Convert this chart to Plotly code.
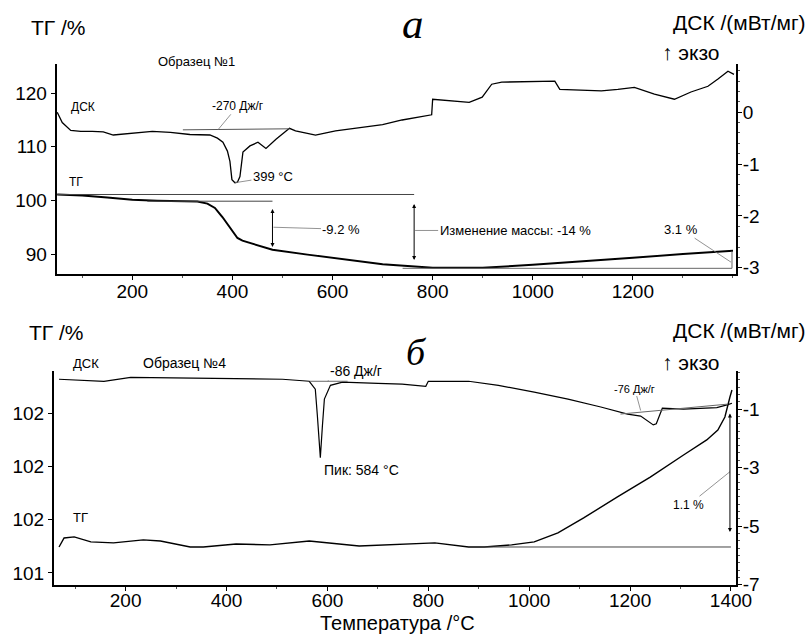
import plotly.graph_objects as go

# ---------------- data: panel a (Образец №1) ----------------
a_tg_T = [50, 100, 150, 200, 250, 300, 330, 350, 365, 380, 390, 400, 410, 420, 440,
          480, 550, 600, 700, 800, 850, 900, 1000, 1100, 1200, 1300, 1400]
a_tg_val = [101.1, 100.9, 100.55, 100.1, 99.95, 99.9, 99.8, 99.4, 98.6, 96.9, 95.6, 94.4,
            93.0, 92.5, 91.9, 90.8, 89.9, 89.3, 88.1, 87.45, 87.4, 87.45, 88.0, 88.6,
            89.3, 90.0, 90.6]

a_dsc_T = [50, 60, 77, 97, 120, 142, 162, 185, 208, 240, 276, 315, 355, 370, 381, 390,
           395, 399, 405, 410, 415, 421, 435, 451, 467, 487, 514, 526, 545, 566, 606,
           640, 674, 700, 739, 765, 798, 800, 830, 873, 899, 918, 938, 1000, 1044, 1054,
           1100, 1137, 1170, 1203, 1243, 1283, 1316, 1350, 1370, 1390, 1402]
a_dsc_val = [0.0, -0.2, -0.35, -0.37, -0.37, -0.38, -0.44, -0.42, -0.39, -0.37, -0.39,
             -0.43, -0.44, -0.5, -0.58, -0.75, -0.95, -1.30, -1.36, -1.35, -1.24, -0.77,
             -0.65, -0.58, -0.70, -0.52, -0.31, -0.36, -0.40, -0.44, -0.36, -0.32, -0.27,
             -0.24, -0.15, -0.1, -0.05, 0.25, 0.22, 0.19, 0.29, 0.54, 0.58, 0.60, 0.60,
             0.44, 0.43, 0.41, 0.44, 0.48, 0.35, 0.25, 0.39, 0.50, 0.64, 0.79, 0.73]

a_tg_base_top_T = [50, 763]
a_tg_base_top_val = [101.1, 101.1]
a_tg_base_mid_T = [230, 480]
a_tg_base_mid_val = [99.85, 99.85]
a_tg_base_low_T = [740, 1398]
a_tg_base_low_val = [87.35, 87.35]
a_tg_end_T = [1398, 1398]
a_tg_end_val = [87.35, 90.5]
a_dsc_base_T = [301, 514]
a_dsc_base_val = [-0.34, -0.32]

# ---------------- data: panel б (Образец №4) ----------------
b_dsc_T = [68, 157, 210, 354, 511, 564, 576, 580, 584, 586, 590, 594, 606, 630, 700,
           748, 795, 800, 880, 939, 1010, 1077, 1142, 1195, 1221, 1235, 1246, 1252,
           1258, 1264, 1306, 1372, 1394, 1402]
b_dsc_val = [0.02, -0.05, 0.08, 0.05, 0.02, -0.05, -0.32, -1.2, -2.4, -2.66, -1.6, -0.66,
             -0.19, -0.08, -0.12, -0.15, -0.22, -0.05, -0.05, -0.19, -0.42, -0.66, -0.93,
             -1.17, -1.24, -1.4, -1.54, -1.5, -1.2, -0.97, -1.0, -0.95, -0.85, -0.8]

b_tg_T = [68, 78, 98, 131, 176, 235, 269, 328, 354, 419, 486, 564, 663, 748, 813, 880,
          911, 965, 1010, 1057, 1108, 1175, 1240, 1306, 1352, 1374, 1388, 1398, 1402]
b_tg_val = [101.446, 101.497, 101.503, 101.475, 101.469, 101.486, 101.480, 101.446,
            101.446, 101.463, 101.458, 101.480, 101.452, 101.463, 101.469, 101.446,
            101.446, 101.458, 101.475, 101.525, 101.610, 101.728, 101.840, 101.964,
            102.049, 102.105, 102.178, 102.291, 102.330]

b_tg_base_T = [905, 1400]
b_tg_base_val = [101.446, 101.446]
b_dsc_base_T = [1181, 1394]
b_dsc_base_val = [-1.17, -0.83]
b_dsc_base2_T = [565, 640]
b_dsc_base2_val = [-0.05, -0.05]

# tick labels
a_x_ticks = [200, 400, 600, 800, 1000, 1200]
b_x_ticks = [200, 400, 600, 800, 1000, 1200, 1400]
a_tg_ticks = [90, 100, 110, 120]
a_dsc_ticks = [-3, -2, -1, 0]
a_dsc_ticktext = ["-3", "-2", "-1", "0"]
b_tg_ticks = [101.3, 101.6, 101.9, 102.2]
b_tg_ticktext = ["101", "102", "102", "102"]
b_dsc_ticks = [-7, -5, -3, -1]
b_dsc_ticktext = ["-7", "-5", "-3", "-1"]

FONT = "Liberation Sans, Arial, sans-serif"
SERIF = "Liberation Serif, Times New Roman, serif"

fig = go.Figure()

def line(xs, ys, xa, ya, w=1.0, c="black"):
    fig.add_trace(go.Scatter(x=xs, y=ys, xaxis=xa, yaxis=ya, mode="lines",
                             line=dict(color=c, width=w), showlegend=False,
                             hoverinfo="skip"))

# panel a
line(a_dsc_T, a_dsc_val, "x", "y2", 1.3)
line(a_tg_T, a_tg_val, "x", "y", 2.0)
line(a_tg_base_top_T, a_tg_base_top_val, "x", "y", 1.0, "#444")
line(a_tg_base_mid_T, a_tg_base_mid_val, "x", "y", 1.0, "#444")
line(a_tg_base_low_T, a_tg_base_low_val, "x", "y", 1.0, "#666")
line(a_tg_end_T, a_tg_end_val, "x", "y", 1.0, "#666")
line(a_dsc_base_T, a_dsc_base_val, "x", "y2", 1.0, "#555")

# panel б
line(b_dsc_T, b_dsc_val, "x2", "y4", 1.2)
line(b_tg_T, b_tg_val, "x2", "y3", 1.4)
line(b_tg_base_T, b_tg_base_val, "x2", "y3", 1.0, "#444")
line(b_dsc_base_T, b_dsc_base_val, "x2", "y4", 1.0, "#666")
line(b_dsc_base2_T, b_dsc_base2_val, "x2", "y4", 1.0, "#666")

axis_common = dict(showline=True, linecolor="black", linewidth=2, showgrid=False,
                   zeroline=False, ticks="outside", tickcolor="black", ticklen=4,
                   tickfont=dict(family=FONT, size=19, color="black"))
minor_x = dict(tickmode="linear", tick0=0, dtick=100, ticks="outside",
               ticklen=2, tickcolor="#555")

fig.update_layout(
    width=811, height=634,
    margin=dict(l=50, r=75, t=64, b=49),
    paper_bgcolor="white", plot_bgcolor="white",
    font=dict(family=FONT, color="black"),
    xaxis=dict(domain=[0.004, 1.0], range=[49, 1406], anchor="y",
               tickmode="array", tickvals=a_x_ticks, ticklabelstandoff=-5,
               minor=minor_x, **axis_common),
    yaxis=dict(domain=[0.597, 1.0], range=[86.3, 125.4], anchor="x",
               tickmode="array", tickvals=a_tg_ticks, **axis_common),
    yaxis2=dict(overlaying="y", side="right", anchor="x", range=[-3.12, 0.93],
                tickmode="array", tickvals=a_dsc_ticks, ticktext=a_dsc_ticktext,
                ticklabelstandoff=-3,
                minor=dict(tickmode="linear", tick0=0, dtick=0.2, ticks="outside",
                           ticklen=2, tickcolor="#555"), **axis_common),
    xaxis2=dict(domain=[0.0, 1.0], range=[58, 1410], anchor="y3",
                tickmode="array", tickvals=b_x_ticks, ticklabelstandoff=-7,
                minor=minor_x, **axis_common),
    yaxis3=dict(domain=[0.0, 0.4107], range=[101.232, 102.437], anchor="x2",
                tickmode="array", tickvals=b_tg_ticks, ticktext=b_tg_ticktext,
                **axis_common),
    yaxis4=dict(overlaying="y3", side="right", anchor="x2", range=[-7.01, 0.30],
                tickmode="array", tickvals=b_dsc_ticks, ticktext=b_dsc_ticktext,
                ticklabelstandoff=-3,
                minor=dict(tickmode="linear", tick0=0, dtick=0.25, ticks="outside",
                           ticklen=2, tickcolor="#555"), **axis_common),
)

ann = []

def ptext(text, x, y, size, xanchor="center", family=FONT, italic=False):
    ann.append(dict(text=("<i>%s</i>" % text) if italic else text, x=x, y=y,
                    xref="paper", yref="paper", showarrow=False, xanchor=xanchor,
                    yanchor="middle", font=dict(family=family, size=size, color="black")))

# headers
ptext("ТГ /%", -0.036, 1.071, 21, xanchor="left")
ptext("а", 0.526, 1.078, 43, family=SERIF, italic=True)
ptext("ДСК /(мВт/мг)", 1.105, 1.079, 21, xanchor="right")
ptext("↑ экзо", 0.889, 1.023, 21, xanchor="left")
ptext("ТГ /%", -0.039, 0.4837, 21, xanchor="left")
ptext("б", 0.532, 0.447, 38, family=SERIF, italic=True)
ptext("ДСК /(мВт/мг)", 1.105, 0.4894, 21, xanchor="right")
ptext("↑ экзо", 0.889, 0.428, 21, xanchor="left")
ptext("Температура /°C", 0.503, -0.0735, 20)

# small labels
ptext("Образец №1", 0.2085, 1.004, 13)
ptext("ДСК", 0.042, 0.9175, 12)
ptext("ТГ", 0.032, 0.7735, 12)
ptext("ДСК", 0.0466, 0.426, 13)
ptext("Образец №4", 0.191, 0.426, 14)
ptext("ТГ", 0.0394, 0.1305, 13)
ptext("Пик: 584 °C", 0.4504, 0.2207, 14)

def leader(text, x, y, xr, yr, ax, ay, size=12):
    ann.append(dict(text=text, x=x, y=y, xref=xr, yref=yr, ax=ax, ay=ay,
                    showarrow=True, arrowhead=0, arrowwidth=0.8, arrowcolor="#777",
                    font=dict(family=FONT, size=size, color="black")))

leader("-270 Дж/г", 371, -0.34, "x", "y2", 20, -24, size=12)
leader("399 °C", 405, -1.36, "x", "y2", 38, -6, size=13)
leader("-9.2 %", 482, 95.0, "x", "y", 68, 2, size=13)
leader("Изменение массы: -14 %", 765, 94.4, "x", "y", 100, 0, size=13)
leader("3.1 %", 1396, 88.5, "x", "y", -50, -33, size=13)
leader("-86 Дж/г", 600, -0.05, "x2", "y4", 29, -10, size=14)
leader("-76 Дж/г", 1221, -1.05, "x2", "y4", -6, -22, size=11)
leader("1.1 %", 1398, 101.87, "x2", "y3", -41, 33, size=12)

def darrow(xv, y0, y1, xr, yr):
    ann.append(dict(text="", x=xv, y=y0, ax=xv, ay=y1, xref=xr, yref=yr,
                    axref=xr, ayref=yr, showarrow=True, arrowhead=2,
                    startarrowhead=2, arrowside="end+start", arrowsize=0.8,
                    startarrowsize=0.8, arrowwidth=1, arrowcolor="black"))

darrow(480, 91.3, 98.7, "x", "y")
darrow(763, 88.9, 99.6, "x", "y")
darrow(1398, 101.531, 102.206, "x2", "y3")

fig.update_layout(annotations=ann)
fig.write_html("out.html", config={"displayModeBar": False},
               post_script="document.body.style.margin='0px';"
                           "document.body.style.overflow='hidden';")
